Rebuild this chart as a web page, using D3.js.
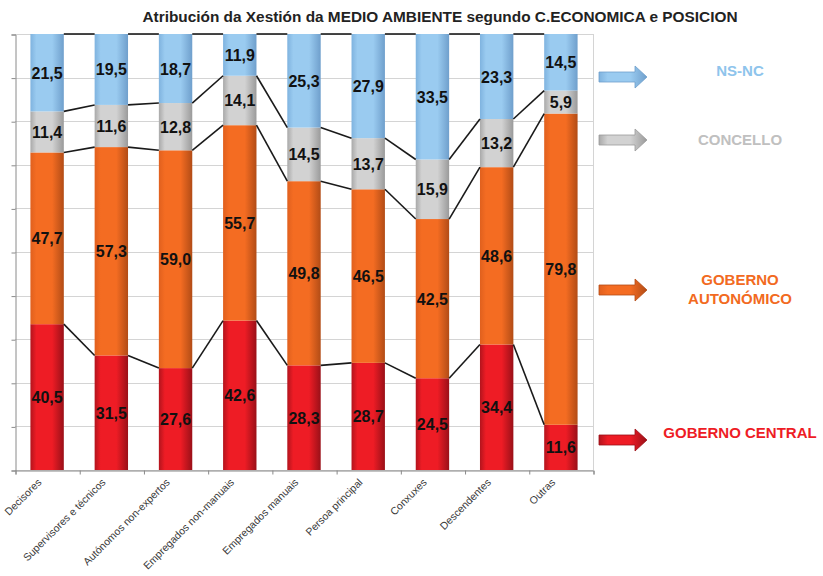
<!DOCTYPE html>
<html>
<head>
<meta charset="utf-8">
<script src="https://cdn.jsdelivr.net/npm/d3@7/dist/d3.min.js"></script>
<style>
body { margin: 0; background: #fff; }
svg { font-family: "Liberation Sans", Arial, sans-serif; }
.grid line { stroke: #d4d4d4; stroke-width: 1; }
.axis path, .axis line { stroke: #8a8a8a; }
.val { font-weight: bold; font-size: 16px; fill: #111; text-anchor: middle; }
.cat { font-size: 10.5px; fill: #3a3a3a; text-anchor: end; }
.leg { font-weight: bold; font-size: 15px; text-anchor: middle; }
</style>
</head>
<body>
<svg id="chart" width="823" height="576"></svg>
<script>
var categorias = ["Decisores", "Supervisores e técnicos", "Autónomos non-expertos",
	"Empregados non-manuais", "Empregados manuais", "Persoa principal",
	"Conxuxes", "Descendentes", "Outras"];
var central    = [40.5, 31.5, 27.6, 42.6, 28.3, 28.7, 24.5, 34.4, 11.6];
var autonomico = [47.7, 57.3, 59.0, 55.7, 49.8, 46.5, 42.5, 48.6, 79.8];
var concello   = [11.4, 11.6, 12.8, 14.1, 14.5, 13.7, 15.9, 13.2, 5.9];
var nsnc       = [21.5, 19.5, 18.7, 11.9, 25.3, 27.9, 33.5, 23.3, 14.5];
var claves = ["central", "autonomico", "concello", "nsnc"];
var nomes = { central: ["GOBERNO CENTRAL"], autonomico: ["GOBERNO", "AUTONÓMICO"],
	concello: ["CONCELLO"], nsnc: ["NS-NC"] };

var cores = { central: ["#b3141d", "#ee1c25", "#9a1018"],
	autonomico: ["#e0601e", "#f46c22", "#b24c16"],
	concello: ["#a9a9a9", "#d2d2d2", "#9a9a9a"],
	nsnc: ["#7fb3df", "#9acbf0", "#6f9fcc"] };
var legCor = { central: "#ee1c25", autonomico: "#f26a21", concello: "#c0c0c0", nsnc: "#8ec4ec" };
var legY = { nsnc: 77, concello: 140, autonomico: 290, central: 440 };

var plotL = 15, plotR = 593, plotT = 34, plotB = 470;

var rows = categorias.map(function(c, i) {
	return { cat: c, central: central[i], autonomico: autonomico[i],
		concello: concello[i], nsnc: nsnc[i] };
});
var stack = d3.stack().keys(claves).offset(d3.stackOffsetExpand);
var layers = stack(rows);

var x = d3.scaleBand().domain(categorias).range([plotL, plotR])
	.paddingInner(0.48).paddingOuter(0.24);
var y = d3.scaleLinear().domain([0, 1]).range([plotB, plotT]);
var fmt = function(v) { return d3.format(".1f")(v).replace(".", ","); };

var svg = d3.select("#chart");
var defs = svg.append("defs");
claves.forEach(function(k) {
	var g = defs.append("linearGradient").attr("id", "g_" + k)
	.attr("x1", 0).attr("x2", 1).attr("y1", 0).attr("y2", 0);
	g.append("stop").attr("offset", "0%").attr("stop-color", cores[k][0]);
	g.append("stop").attr("offset", "18%").attr("stop-color", cores[k][1]);
	g.append("stop").attr("offset", "65%").attr("stop-color", cores[k][1]);
	g.append("stop").attr("offset", "100%").attr("stop-color", cores[k][2]);
});

svg.append("text")
.attr("x", 440).attr("y", 22)
.attr("text-anchor", "middle")
.attr("font-weight", "bold").attr("font-size", 14)
.attr("fill", "#222")
.attr("textLength", 595).attr("lengthAdjust", "spacingAndGlyphs")
.text("Atribución da Xestión da MEDIO AMBIENTE segundo C.ECONOMICA e POSICION");

// gridlines
svg.append("g").attr("class", "grid")
.selectAll("line").data(y.ticks(10))
.enter().append("line")
.attr("x1", plotL).attr("x2", plotR)
.attr("y1", function(d) { return Math.round(y(d)) + 0.5; })
.attr("y2", function(d) { return Math.round(y(d)) + 0.5; });
svg.append("line").attr("class", "grid")
.attr("x1", plotR + 0.5).attr("x2", plotR + 0.5)
.attr("y1", plotT).attr("y2", plotB)
.attr("stroke", "#d4d4d4");

svg.append("g").attr("class", "axis")
.attr("transform", "translate(" + (plotL + 0.5) + ",0.5)")
.call(d3.axisLeft(y).ticks(10).tickSize(4).tickFormat(""));

var xPos = d3.scaleLinear().domain([0, categorias.length]).range([plotL, plotR]);
svg.append("g").attr("class", "axis")
.attr("transform", "translate(0.5," + (plotB + 0.5) + ")")
.call(d3.axisBottom(xPos).ticks(categorias.length).tickSize(4).tickFormat("").tickSizeOuter(4));

// bars
var gl = svg.selectAll("g.layer").data(layers)
.enter().append("g").attr("class", "layer")
.attr("fill", function(d) { return "url(#g_" + d.key + ")"; });
gl.selectAll("rect").data(function(d) { return d; })
.enter().append("rect")
.attr("x", function(d) { return x(d.data.cat); })
.attr("width", x.bandwidth())
.attr("y", function(d) { return y(d[1]); })
.attr("height", function(d) { return y(d[0]) - y(d[1]); });

// series lines
var gs = svg.append("g").attr("stroke", "#1a1a1a").attr("stroke-width", 1.6);
layers.forEach(function(l) {
	gs.selectAll(null).data(d3.pairs(l))
	.enter().append("line")
	.attr("x1", function(p) { return x(p[0].data.cat) + x.bandwidth(); })
	.attr("y1", function(p) { return y(p[0][1]); })
	.attr("x2", function(p) { return x(p[1].data.cat); })
	.attr("y2", function(p) { return y(p[1][1]); });
});

// value labels
layers.forEach(function(l) {
	svg.append("g").selectAll("text").data(l)
	.enter().append("text").attr("class", "val")
	.attr("x", function(d) { return x(d.data.cat) + x.bandwidth() / 2; })
	.attr("y", function(d) { return (y(d[0]) + y(d[1])) / 2 + 6; })
	.text(function(d) { return fmt(d.data[l.key]); });
});

// category labels
svg.append("g").selectAll("text").data(categorias)
.enter().append("text").attr("class", "cat")
.attr("transform", function(d) {
	return "translate(" + (x(d) + x.bandwidth() / 2 - 5) + "," + (plotB + 13) + ") rotate(-45)";
})
.text(function(d) { return d; });

// legend arrows
var arrow = "M0,-5 L36,-5 L36,-11 L48,0 L36,11 L36,5 L0,5 Z";
claves.forEach(function(k) {
	var ay = legY[k];
	svg.append("path")
	.attr("d", arrow)
	.attr("transform", "translate(599," + ay + ")")
	.attr("fill", "url(#g_" + k + ")")
	.attr("stroke", cores[k][2]).attr("stroke-width", 0.8);
	var lines = nomes[k];
	var t = svg.append("text").attr("class", "leg")
	.attr("fill", legCor[k])
	.attr("x", 740);
	lines.forEach(function(s, i) {
		t.append("tspan").attr("x", 740)
		.attr("y", ay - (lines.length - 1) * 9.5 + i * 19 - (k === "central" ? 7 : 0) + (k === "nsnc" ? -6 : 0) + (k === "autonomico" ? -1 : 0) + 5)
		.text(s);
	});
});
</script>
</body>
</html>
